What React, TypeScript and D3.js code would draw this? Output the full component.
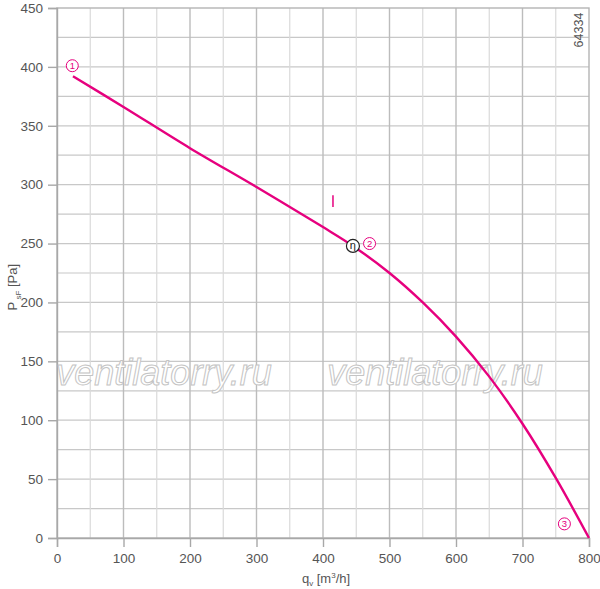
import React, { useEffect, useRef } from 'react';
import * as d3 from 'd3';

// fan curve: flow q_v [m3/h] vs static pressure P_sF [Pa]
const flow = [24, 100, 200, 300, 400, 445, 500, 550, 600, 650, 700, 750, 800];
const pressure = [392, 366, 331, 298, 264, 248, 225, 200, 171, 137, 97, 51, 0];

const xTicks = [0, 100, 200, 300, 400, 500, 600, 700, 800];
const yTicks = [0, 50, 100, 150, 200, 250, 300, 350, 400, 450];

// numbered operating points (label position in data units)
const markers = [
  { label: '1', q: 23, p: 401 },
  { label: '2', q: 470, p: 250 },
  { label: '3', q: 763, p: 12 },
];
const etaPoint = { q: 445, p: 248 };

const App = () => {
  const svgRef = useRef<SVGSVGElement>(null);

  useEffect(() => {
    const svg = d3.select(svgRef.current);
    svg.selectAll('*').remove();

    const width = 600;
    const height = 589;
    const m = { top: 8, right: 11, bottom: 51, left: 57 };
    const pink = '#e6007e';
    const font = 'Liberation Sans, Arial, sans-serif';

    const x = d3.scaleLinear().domain([0, 800]).range([m.left, width - m.right]);
    const y = d3.scaleLinear().domain([0, 450]).range([height - m.bottom, m.top]);

    svg.attr('width', width).attr('height', height);
    svg.append('rect').attr('width', width).attr('height', height).attr('fill', '#fff');

    // grid
    const g = svg.append('g');
    d3.range(25, 450, 25).forEach(v => {
      g.append('line')
        .attr('x1', x(0)).attr('x2', x(800))
        .attr('y1', y(v)).attr('y2', y(v))
        .attr('stroke', '#c8c8c8').attr('stroke-width', 1.2);
    });
    d3.range(50, 800, 50).forEach(v => {
      g.append('line')
        .attr('x1', x(v)).attr('x2', x(v))
        .attr('y1', y(0)).attr('y2', y(450))
        .attr('stroke', v % 100 === 0 ? '#bcbcbc' : '#dadada')
        .attr('stroke-width', v % 100 === 0 ? 1.4 : 1.2);
    });
    // frame
    g.append('rect')
      .attr('x', x(0)).attr('y', y(450))
      .attr('width', x(800) - x(0)).attr('height', y(0) - y(450))
      .attr('fill', 'none').attr('stroke', '#b4b4b4').attr('stroke-width', 1.4);

    // axes
    const yAxis = svg.append('g')
      .attr('transform', `translate(${x(0)},0)`)
      .call(d3.axisLeft(y).tickValues(yTicks).tickSize(9).tickPadding(5));
    const xAxis = svg.append('g')
      .attr('transform', `translate(0,${y(0)})`)
      .call(d3.axisBottom(x).tickValues(xTicks).tickSize(9).tickPadding(6));
    [yAxis, xAxis].forEach(a => {
      a.select('.domain').attr('stroke', '#a8a8a8').attr('stroke-width', 1.4);
      a.selectAll('.tick line').attr('stroke', '#a8a8a8').attr('stroke-width', 1.4);
      a.selectAll('.tick text')
        .attr('fill', '#555').attr('font-size', 13.5).attr('font-family', font);
    });

    // watermark
    [164, 435].forEach(cx => {
      svg.append('text')
        .attr('x', cx).attr('y', 385)
        .attr('text-anchor', 'middle')
        .attr('font-family', font)
        .attr('font-style', 'italic')
        .attr('font-size', 36)
        .attr('fill', '#fff')
        .attr('stroke', '#c4c4c4')
        .attr('stroke-width', 1)
        .text('ventilatorry.ru');
    });

    // curve
    const line = d3.line<number>()
      .x((d, i) => x(flow[i]))
      .y(d => y(d))
      .curve(d3.curveCatmullRom.alpha(0.5));
    svg.append('path')
      .datum(pressure)
      .attr('d', line)
      .attr('fill', 'none')
      .attr('stroke', pink)
      .attr('stroke-width', 2.4);

    // pink tick mark
    svg.append('line')
      .attr('x1', x(415)).attr('x2', x(415))
      .attr('y1', y(291)).attr('y2', y(281))
      .attr('stroke', pink).attr('stroke-width', 1.5);

    // numbered markers
    markers.forEach(d => {
      const mg = svg.append('g').attr('transform', `translate(${x(d.q)},${y(d.p)})`);
      mg.append('circle').attr('r', 6).attr('fill', '#fff').attr('stroke', pink).attr('stroke-width', 1);
      mg.append('text')
        .attr('text-anchor', 'middle').attr('dy', '0.36em')
        .attr('font-size', 9.5).attr('font-family', font).attr('fill', pink)
        .text(d.label);
    });

    // efficiency point
    const eg = svg.append('g').attr('transform', `translate(${x(etaPoint.q)},${y(etaPoint.p)})`);
    eg.append('circle').attr('r', 6.5).attr('fill', '#fff').attr('stroke', '#222').attr('stroke-width', 1.2);
    eg.append('text')
      .attr('text-anchor', 'middle').attr('dy', '0.3em')
      .attr('font-size', 11).attr('font-family', font).attr('fill', '#222')
      .text('η');

    // id number
    svg.append('text')
      .attr('transform', `translate(${x(800) - 6},${y(450) + 22}) rotate(-90)`)
      .attr('text-anchor', 'middle')
      .attr('font-size', 12.5).attr('font-family', font).attr('fill', '#555')
      .text('64334');

    // axis titles
    const yt = svg.append('text')
      .attr('transform', `translate(17,${y(213)}) rotate(-90)`)
      .attr('text-anchor', 'middle')
      .attr('font-size', 13).attr('font-family', font).attr('fill', '#555');
    yt.append('tspan').text('P');
    yt.append('tspan').attr('font-size', 8).attr('dy', 4).text(' sF');
    yt.append('tspan').attr('dy', -4).text(' [Pa]');

    const xt = svg.append('text')
      .attr('x', 326).attr('y', 583)
      .attr('text-anchor', 'middle')
      .attr('font-size', 13).attr('font-family', font).attr('fill', '#555');
    xt.append('tspan').text('q');
    xt.append('tspan').attr('font-size', 8).attr('dy', 3).text('v');
    xt.append('tspan').attr('dy', -3).text(' [m');
    xt.append('tspan').attr('font-size', 8).attr('dy', -5).text('3');
    xt.append('tspan').attr('dy', 5).text('/h]');
  }, []);

  return (
    <svg ref={svgRef} style={{ position: 'absolute', left: 0, top: 0, display: 'block' }}></svg>
  );
};

export default App;
